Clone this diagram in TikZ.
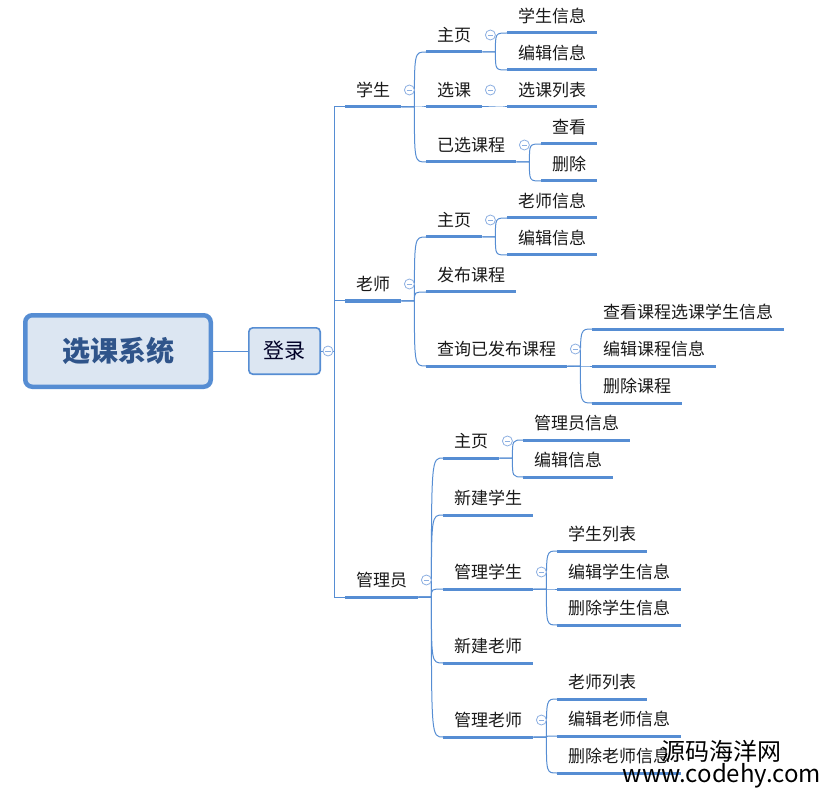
\documentclass[tikz,border=0pt]{standalone}
\usepackage{fontspec}
\setmainfont{Noto Sans CJK SC}
\definecolor{linec}{RGB}{86,141,211}
\definecolor{rootfill}{RGB}{220,230,242}
\definecolor{roottext}{RGB}{47,84,138}
\definecolor{foldc}{RGB}{140,175,225}
\begin{document}
\begin{tikzpicture}[x=1pt, y=-1pt]
	\tikzset{
		root node/.style={draw=linec, line width=4.5pt, fill=rootfill, rounded corners=7pt, minimum width=185.5pt, minimum height=71.5pt, font=\fontsize{28}{30}\selectfont\bfseries, text=roottext},
		login node/.style={draw=linec, line width=1.6pt, fill=rootfill, rounded corners=4pt, minimum width=71.4pt, minimum height=46.4pt, font=\fontsize{21}{24}\selectfont, text=black!85!blue},
		topic/.style={anchor=south west, inner xsep=11pt, inner ysep=7.5pt, text height=13pt, text depth=3pt, font=\fontsize{17}{20}\selectfont, text=black!90},
		uline/.style={linec, line width=3pt},
		branch/.style={linec, line width=1pt},
		fold/.style={circle, draw=foldc, fill=white, line width=0.8pt, inner sep=0pt, minimum size=10pt, path picture={\draw[foldc, line width=0.8pt] ([xshift=-2.6pt]path picture bounding box.center) -- ([xshift=2.6pt]path picture bounding box.center);}}
	}
	\useasboundingbox (0,0) rectangle (827,794);
	
	% Root and login
	\node[root node] (sys) at (118,351) {选课系统};
	\node[login node] (login) at (284.5,351) {登录};
	\draw[branch] (sys) -- (login);
	
	% Roles
	\node[topic] (stu) at (345,107) {学生};
	\node[topic] (tea) at (345,301) {老师};
	\node[topic] (adm) at (345,597) {管理员};
	
	% Student pages
	\node[topic] (s1) at (426,52) {主页};
	\node[topic] (s2) at (426,107) {选课};
	\node[topic] (s3) at (426,162) {已选课程};
	\node[topic] (s11) at (507,33) {学生信息};
	\node[topic] (s12) at (507,70) {编辑信息};
	\node[topic] (s21) at (507,107) {选课列表};
	\node[topic] (s31) at (541,144) {查看};
	\node[topic] (s32) at (541,181) {删除};
	
	% Teacher pages
	\node[topic] (t1) at (426,237) {主页};
	\node[topic] (t2) at (426,292) {发布课程};
	\node[topic] (t3) at (426,366) {查询已发布课程};
	\node[topic] (t11) at (507,218) {老师信息};
	\node[topic] (t12) at (507,255) {编辑信息};
	\node[topic] (t31) at (592,329) {查看课程选课学生信息};
	\node[topic] (t32) at (592,366) {编辑课程信息};
	\node[topic] (t33) at (592,403) {删除课程};
	
	% Admin pages
	\node[topic] (a1) at (443,458) {主页};
	\node[topic] (a2) at (443,515) {新建学生};
	\node[topic] (a3) at (443,589) {管理学生};
	\node[topic] (a4) at (443,663) {新建老师};
	\node[topic] (a5) at (443,737) {管理老师};
	\node[topic] (a11) at (523,440) {管理员信息};
	\node[topic] (a12) at (523,477) {编辑信息};
	\node[topic] (a31) at (557,551) {学生列表};
	\node[topic] (a32) at (557,589) {编辑学生信息};
	\node[topic] (a33) at (557,625) {删除学生信息};
	\node[topic] (a51) at (557,699) {老师列表};
	\node[topic] (a52) at (557,736) {编辑老师信息};
	\node[topic] (a53) at (557,773) {删除老师信息};
	
	\foreach \n in {stu,tea,adm,s1,s2,s3,s11,s12,s21,s31,s32,t1,t2,t3,t11,t12,t31,t32,t33,a1,a2,a3,a4,a5,a11,a12,a31,a32,a33,a51,a52,a53}
		\draw[uline] (\n.south west) -- (\n.south east);
	
	% Connectors
	\foreach \c in {stu,tea,adm}
		\draw[branch] (login.east) -- ++(13,0) |- (\c.south west);
	\foreach \p/\c in {stu/s1, stu/s2, stu/s3, s1/s11, s1/s12, s2/s21, s3/s31, s3/s32,
		tea/t1, tea/t2, tea/t3, t1/t11, t1/t12, t3/t31, t3/t32, t3/t33,
		adm/a1, adm/a2, adm/a3, adm/a4, adm/a5, a1/a11, a1/a12, a3/a31, a3/a32, a3/a33, a5/a51, a5/a52, a5/a53} {
		\draw[branch] (\p.south east) -- ++(13,0) coordinate (b) .. controls (b |- \c.south west) .. (\c.south west);
	}
	
	% Collapse marks
	\foreach \n in {stu,tea,adm,s1,s2,s3,t1,t3,a1,a3,a5}
		\node[fold] (\n-f) at ([xshift=8pt, yshift=17pt]\n.south east) {};
	\node[fold] (login-f) at ([xshift=7pt]login.east) {};
	
	% Watermark
	\node[anchor=base, font=\fontsize{24}{26}\selectfont] (wm) at (721,760) {源码海洋网};
	\node[anchor=base, font=\fontsize{24}{26}\selectfont] (url) at (722,782) {www.codehy.com};
\end{tikzpicture}
\end{document}
